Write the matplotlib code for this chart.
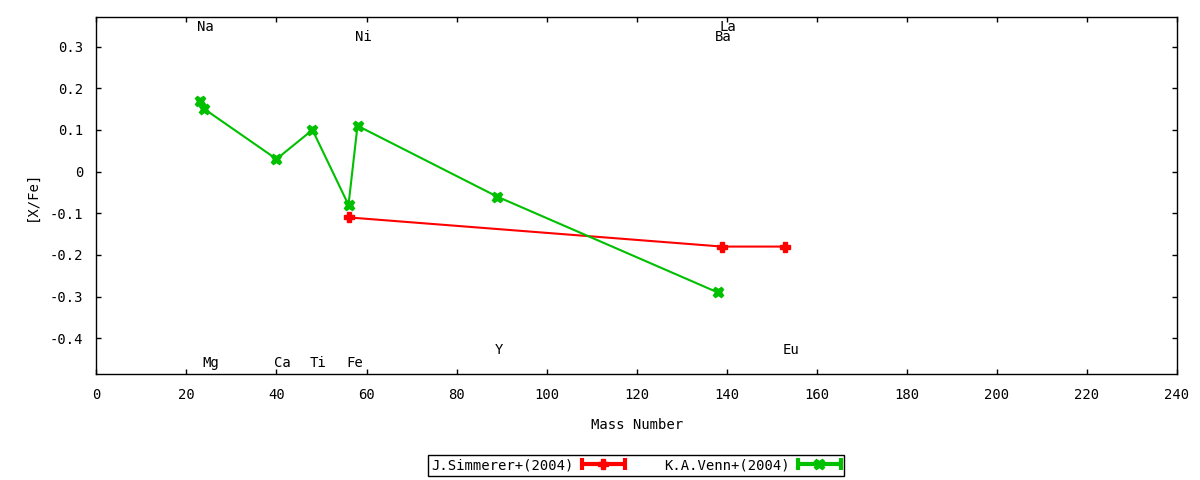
import matplotlib
matplotlib.use('Agg')
import matplotlib.pyplot as plt
from matplotlib.lines import Line2D
from matplotlib.legend_handler import HandlerBase
from matplotlib.ticker import FuncFormatter

# [X/Fe] against mass number
simm_mass = [56, 139, 153]
simm_xfe = [-0.11, -0.18, -0.18]

venn_mass = [23, 24, 40, 48, 56, 58, 89, 138]
venn_xfe = [0.17, 0.15, 0.03, 0.10, -0.08, 0.11, -0.06, -0.29]

# element labels: name, mass number, height in data units
elem_names = ['Na', 'Mg', 'Ca', 'Ti', 'Fe', 'Ni', 'Y', 'Ba', 'La', 'Eu']
elem_mass = [23, 24, 40, 48, 56, 58, 89, 138, 139, 153]
elem_label_y = [0.347, -0.46, -0.46, -0.46, -0.46, 0.322, -0.428, 0.322, 0.347, -0.428]

x_ticks = list(range(0, 241, 20))
y_ticks = [-0.4, -0.3, -0.2, -0.1, 0, 0.1, 0.2, 0.3]

RED = '#ff0000'
GREEN = '#00c000'

plt.rcParams['font.family'] = ['DejaVu Sans Mono']
plt.rcParams['font.size'] = 10
plt.rcParams['axes.unicode_minus'] = False


class HandlerErrLine(HandlerBase):
    '''gnuplot style key sample: line with end caps and a point in the middle'''
    def create_artists(self, legend, orig_handle, xdescent, ydescent,
                       width, height, fontsize, trans):
        c = orig_handle.get_color()
        y = height / 2 - ydescent
        x0, x1 = -xdescent, width - xdescent
        line = Line2D([x0, x1], [y, y], color=c, lw=3, solid_capstyle='butt')
        caps = Line2D([x0, x1], [y, y], lw=0, marker='|', ms=9, mew=3,
                      color=c)
        pt = Line2D([(x0 + x1) / 2], [y], lw=0,
                    marker=orig_handle.get_marker(),
                    ms=orig_handle.get_markersize(), color=c)
        for a in (line, caps, pt):
            a.set_transform(trans)
        return [line, caps, pt]


fig = plt.figure(figsize=(12, 4.8), dpi=100)
ax = fig.add_axes([0.0803, 0.2198, 0.9005, 0.7448])

l1, = ax.plot(simm_mass, simm_xfe, color=RED, lw=1.5, marker='P', ms=7,
              mec=RED, mfc=RED)
l2, = ax.plot(venn_mass, venn_xfe, color=GREEN, lw=1.5, marker='X', ms=7.5,
              mec=GREEN, mfc=GREEN)

for name, m, yl in zip(elem_names, elem_mass, elem_label_y):
    ax.annotate(name, (m, yl), xytext=(-2.5, 0), textcoords='offset pixels',
                ha='left', va='center', fontsize=10)

ax.set_xlim(0, 240)
ax.set_ylim(-0.487, 0.371)
ax.set_xticks(x_ticks)
ax.set_yticks(y_ticks)
ax.yaxis.set_major_formatter(FuncFormatter(lambda v, p: '%g' % round(v, 2)))
ax.tick_params(direction='in', length=3.5, width=1, top=True, right=True,
               pad=9.5, labelsize=10)
for s in ax.spines.values():
    s.set_linewidth(1)

ax.set_xlabel('Mass Number', fontsize=10, labelpad=12)
ax.set_ylabel('[X/Fe]', fontsize=10, labelpad=8)

leg = fig.legend([l1, l2], ['J.Simmerer+(2004)', 'K.A.Venn+(2004)'],
                 loc='center', bbox_to_anchor=(0.53, 0.031),
                 ncol=2, markerfirst=False, frameon=True,
                 fancybox=False, edgecolor='black', framealpha=1,
                 handlelength=3.1, columnspacing=2.8, handletextpad=0.6,
                 borderpad=0.25, fontsize=10,
                 handler_map={Line2D: HandlerErrLine()})
leg.get_frame().set_linewidth(1)

fig.savefig('out.png', dpi=100)
